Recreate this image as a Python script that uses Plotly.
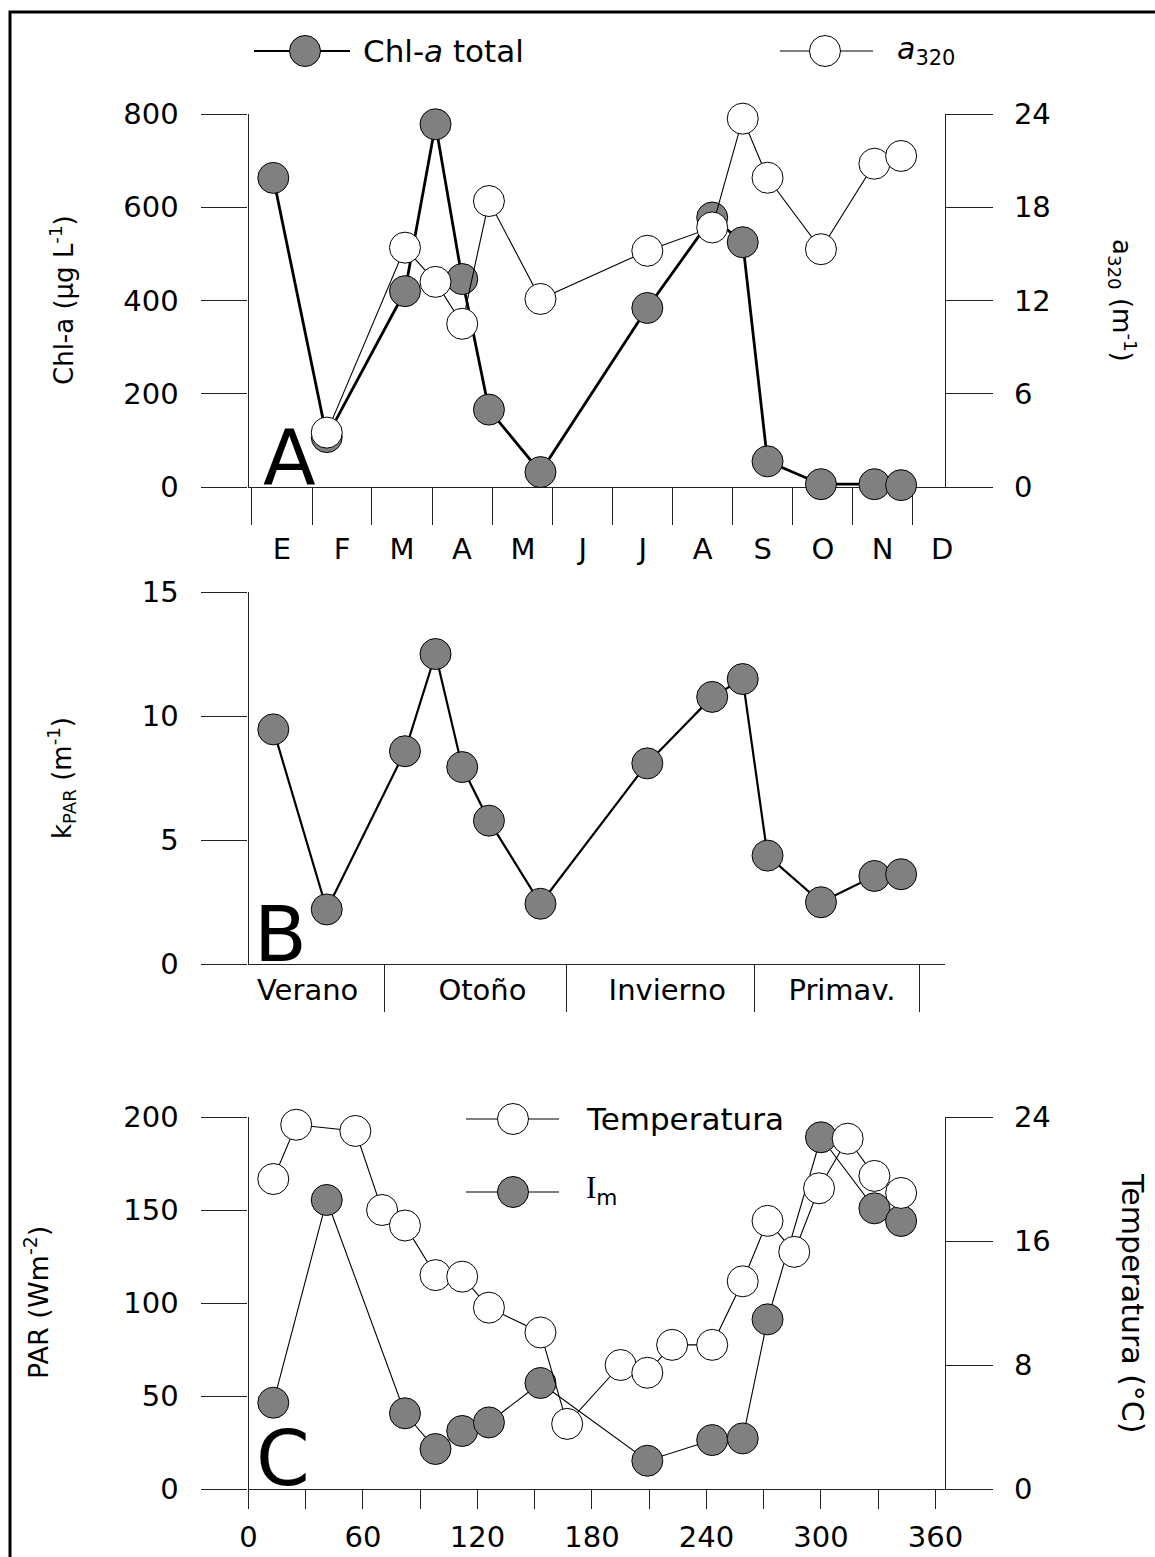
import plotly.graph_objects as go

W, H = 1155, 1557

# ---------------- data ----------------
days = [13, 41, 82, 98, 112, 126, 153, 209, 243, 259, 272, 300, 328, 342]
chla = [663, 107, 420, 778, 446, 166, 32, 384, 578, 525, 55, 6, 6, 4]
a320_days = [41, 82, 98, 112, 126, 153, 209, 243, 259, 272, 300, 328, 342]
a320 = [3.5, 15.4, 13.2, 10.5, 18.4, 12.1, 15.2, 16.7, 23.7, 19.9, 15.3, 20.8, 21.3]
kpar = [9.46, 2.2, 8.58, 12.5, 7.94, 5.78, 2.43, 8.09, 10.77, 11.49, 4.37, 2.49, 3.55, 3.62]
temp_days = [13, 25, 56, 70, 82, 98, 112, 126, 153, 167, 195, 209, 222, 243, 259, 272,
             286, 299, 314, 328, 342]
temp = [20.0, 23.5, 23.1, 18.0, 17.0, 13.8, 13.7, 11.7, 10.1, 4.2, 8.0, 7.5, 9.3, 9.3,
        13.4, 17.3, 15.3, 19.4, 22.6, 20.2, 19.1]
im = [46.4, 155.4, 40.7, 21.5, 31.2, 35.8, 57.0, 15.2, 26.3, 27.2, 91.2, 189.1, 150.9, 144.1]

month_bounds = [1.8, 33.3, 64.7, 96.2, 128.1, 159.5, 191.0, 222.4, 253.8, 285.3, 316.7, 348.1]
month_pos = [17.5, 49.0, 80.4, 111.8, 143.8, 175.2, 206.6, 238.0, 269.5, 301.0, 332.3, 363.5]
month_text = ["E", "F", "M", "A", "M", "J", "J", "A", "S", "O", "N", "D"]

season_bounds = [71.2, 166.6, 265.0, 351.5]
season_pos = [31, 122.6, 219.5, 311]
season_text = ["Verano", "Otoño", "Invierno", "Primav."]

day_ticks = [0, 60, 120, 180, 240, 300, 360]
day_minor = [30, 90, 150, 210, 270, 330]

chla_ticks = [0, 200, 400, 600, 800]
a320_ticks = [0, 6, 12, 18, 24]
kpar_ticks = [0, 5, 10, 15]
par_ticks = [0, 50, 100, 150, 200]
temp_ticks = [0, 8, 16, 24]

# ---------------- style ----------------
FONT = "DejaVu Sans"
GRAY = "#808080"
AX = "#222222"
MS = 31


def px(x):
    return x / W


def py(y):
    return 1 - y / H


xdom = [px(248.5), px(945)]
domA = [py(487), py(114)]
domB = [py(964), py(592)]
domC = [py(1489), py(1117)]

fig = go.Figure()

filled = dict(size=MS, color=GRAY, line=dict(color="black", width=1))
hollow = dict(size=MS, color="white", line=dict(color="black", width=1))

fig.add_trace(go.Scatter(x=days, y=chla, mode="lines+markers", name="Chl-a total",
                         line=dict(color="black", width=2.8), marker=filled,
                         xaxis="x", yaxis="y", cliponaxis=False, showlegend=False))
fig.add_trace(go.Scatter(x=a320_days, y=a320, mode="lines+markers", name="a320",
                         line=dict(color="black", width=1.1), marker=hollow,
                         xaxis="x", yaxis="y2", cliponaxis=False, showlegend=False))
fig.add_trace(go.Scatter(x=days, y=kpar, mode="lines+markers", name="kPAR",
                         line=dict(color="black", width=2.2), marker=filled,
                         xaxis="x2", yaxis="y3", cliponaxis=False, showlegend=False))
fig.add_trace(go.Scatter(x=days, y=im, mode="lines+markers", name="Im",
                         line=dict(color="black", width=1.1), marker=filled,
                         xaxis="x3", yaxis="y4", cliponaxis=False, showlegend=False))
fig.add_trace(go.Scatter(x=temp_days, y=temp, mode="lines+markers", name="Temperatura",
                         line=dict(color="black", width=1.1), marker=hollow,
                         xaxis="x3", yaxis="y5", cliponaxis=False, showlegend=False))

tickfont = dict(family=FONT, size=29, color="black")

common_x = dict(domain=xdom, range=[0, 365], showgrid=False, zeroline=False,
                showline=True, linecolor=AX, linewidth=1.2, tickfont=tickfont,
                layer="below traces", fixedrange=True, automargin=False)
common_y = dict(showgrid=False, zeroline=False, showline=True, linecolor=AX,
                linewidth=1.2, tickfont=tickfont, ticks="outside", tickcolor=AX,
                tickwidth=1.2, layer="below traces", fixedrange=True, automargin=False)

fig.update_layout(
    width=W, height=H,
    margin=dict(l=0, r=0, t=0, b=0, pad=0, autoexpand=False),
    paper_bgcolor="white", plot_bgcolor="white",
    showlegend=False,
    xaxis=dict(**common_x, anchor="y", tickmode="array", tickvals=month_pos,
               ticktext=month_text, ticks="", ticklabelstandoff=36,
               minor=dict(tickmode="array", tickvals=month_bounds, ticks="outside",
                          ticklen=37, tickcolor=AX, tickwidth=1.2)),
    yaxis=dict(**common_y, domain=domA, anchor="x", range=[0, 800],
               tickmode="array", tickvals=chla_ticks, ticklen=46, ticklabelstandoff=17),
    yaxis2=dict(**common_y, overlaying="y", side="right", anchor="x", range=[0, 24],
                tickmode="array", tickvals=a320_ticks, ticklen=47, ticklabelstandoff=15),
    xaxis2=dict(**common_x, anchor="y3", tickmode="array", tickvals=season_pos,
                ticktext=season_text, ticks="", ticklabelstandoff=0,
                minor=dict(tickmode="array", tickvals=season_bounds, ticks="outside",
                           ticklen=47, tickcolor=AX, tickwidth=1.2)),
    yaxis3=dict(**common_y, domain=domB, anchor="x2", range=[0, 15],
                tickmode="array", tickvals=kpar_ticks, ticklen=46, ticklabelstandoff=17),
    xaxis3=dict(**common_x, anchor="y4", tickmode="array", tickvals=day_ticks,
                ticks="outside", ticklen=19, tickcolor=AX, tickwidth=1.2,
                ticklabelstandoff=3,
                minor=dict(tickmode="array", tickvals=day_minor, ticks="outside",
                           ticklen=19, tickcolor=AX, tickwidth=1.2)),
    yaxis4=dict(**common_y, domain=domC, anchor="x3", range=[0, 200],
                tickmode="array", tickvals=par_ticks, ticklen=46, ticklabelstandoff=17),
    yaxis5=dict(**common_y, overlaying="y4", side="right", anchor="x3", range=[0, 24],
                tickmode="array", tickvals=temp_ticks, ticklen=47, ticklabelstandoff=15),
)

shapes = []
# outer frame (clipped at right and bottom like the reference)
shapes.append(dict(type="rect", xref="paper", yref="paper", x0=px(10), x1=1.05,
                   y0=-0.05, y1=py(12), line=dict(color="black", width=3)))


def legend_glyph(xc, yc, x0, x1, fill, lw):
    r = MS / 2
    shapes.append(dict(type="line", xref="paper", yref="paper", x0=px(x0), x1=px(x1),
                       y0=py(yc), y1=py(yc), line=dict(color="black", width=lw)))
    shapes.append(dict(type="circle", xref="paper", yref="paper",
                       x0=px(xc - r), x1=px(xc + r), y0=py(yc + r), y1=py(yc - r),
                       fillcolor=fill, line=dict(color="black", width=1)))


legend_glyph(305, 51, 254, 350, GRAY, 2.2)
legend_glyph(825, 51, 780, 873, "white", 1.1)
legend_glyph(513, 1119, 466, 559, "white", 1.1)
legend_glyph(513, 1192, 466, 559, GRAY, 1.1)
fig.update_layout(shapes=shapes)

ann = []


def text(x, y, s, size=29, xanchor="left", angle=0, family=FONT):
    ann.append(dict(x=px(x), y=py(y), xref="paper", yref="paper", text=s,
                    showarrow=False, xanchor=xanchor, yanchor="middle",
                    textangle=angle, font=dict(family=family, size=size, color="black")))


# legends
text(361, 51, "Chl-<i>a</i> total", 31)
text(895, 51, "<i>a</i><sub>320</sub>", 30)
text(584, 1119, "Temperatura", 31)
text(584, 1190, "<span style='font-family:Liberation Serif'>I</span><sub>m</sub>", 31)

# axis titles
text(62, 300, "Chl-a (µg L<sup>-1</sup>)", 26, "center", -90)
text(1122, 300, "a<sub>320</sub> (m<sup>-1</sup>)", 26, "center", 90)
text(62, 778, "k<sub>PAR</sub> (m<sup>-1</sup>)", 26, "center", -90)
text(36, 1303, "PAR (Wm<sup>-2</sup>)", 27, "center", -90)
text(1133, 1303, "Temperatura (°C)", 30, "center", 90)

# panel letters
text(289, 457, "A", 77, "center")
text(280, 934, "B", 77, "center")
text(283, 1458, "C", 77, "center")

fig.update_layout(annotations=ann)

fig.write_html("out.html")
